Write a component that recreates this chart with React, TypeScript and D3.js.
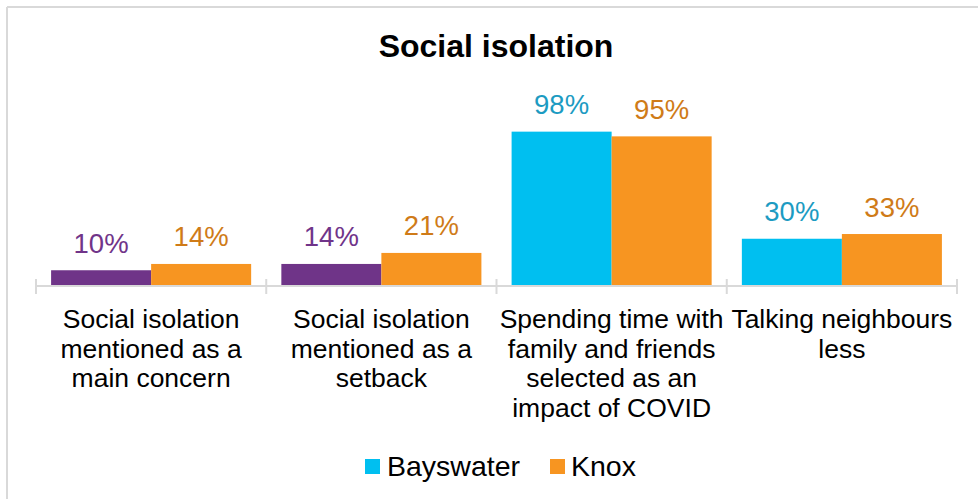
import React from "react";
import * as d3 from "d3";

const categories = ["c1", "c2", "c3", "c4"];
const categoryLines = [
  ["Social isolation", "mentioned as a", "main concern"],
  ["Social isolation", "mentioned as a", "setback"],
  ["Spending time with", "family and friends", "selected as an", "impact of COVID"],
  ["Talking neighbours", "less"],
];
const seriesNames = ["Bayswater", "Knox"];
const bayswater = [10, 14, 98, 30];
const knox = [14, 21, 95, 33];
const bayswaterBarColors = ["#6F3488", "#6F3488", "#00BFF0", "#00BFF0"];
const bayswaterLabelColors = ["#703489", "#703489", "#1C9BC2", "#1C9BC2"];
const knoxBarColor = "#F79521";
const knoxLabelColor = "#CF7B18";
const legendColors = ["#00BFF0", "#F79521"];
const titleText = "Social isolation";

const W = 978;
const H = 499;
const FONT = "'Liberation Sans', Arial, sans-serif";

export default function App() {
  const x0 = d3.scaleBand<string>().domain(categories).range([36, 957]).paddingInner(0).paddingOuter(0);
  const x1 = d3
    .scaleBand<string>()
    .domain(seriesNames)
    .range([0, x0.bandwidth()])
    .paddingInner(0)
    .paddingOuter(0.151);
  const y = d3.scaleLinear().domain([0, 100]).range([286, 128.5]);
  const values = [bayswater, knox];
  const ticks = [...categories.map((c) => x0(c)!), 957];

  return (
    <svg
      width={W}
      height={H}
      style={{ position: "absolute", left: 0, top: 0, background: "#fff" }}
      fontFamily={FONT}
    >
      <rect x={0} y={0} width={W} height={H} fill="#fff" />
      <line x1={7} y1={7} x2={W} y2={7} stroke="#D9D9D9" strokeWidth={2} />
      <line x1={7} y1={7} x2={7} y2={H} stroke="#D9D9D9" strokeWidth={2} />

      <text x={496} y={57} textAnchor="middle" fontSize={32} fontWeight="bold" fill="#000">
        {titleText}
      </text>

      {categories.map((c, i) =>
        seriesNames.map((s, si) => {
          const v = values[si][i];
          const bx = x0(c)! + x1(s)!;
          const fill = si === 0 ? bayswaterBarColors[i] : knoxBarColor;
          const lc = si === 0 ? bayswaterLabelColors[i] : knoxLabelColor;
          return (
            <g key={c + s}>
              <rect x={bx} y={y(v)} width={x1.bandwidth()} height={y(0) - y(v)} fill={fill} />
              <text
                x={bx + x1.bandwidth() / 2}
                y={y(v) - 17.5}
                textAnchor="middle"
                fontSize={27.5}
                fill={lc}
              >
                {v}%
              </text>
            </g>
          );
        })
      )}

      <line x1={36} y1={286} x2={957} y2={286} stroke="#D9D9D9" strokeWidth={2} />
      {ticks.map((t, i) => (
        <line key={i} x1={t} y1={279} x2={t} y2={294} stroke="#D9D9D9" strokeWidth={2} />
      ))}

      {categories.map((c, i) => (
        <text key={c} x={x0(c)! + x0.bandwidth() / 2} y={328} textAnchor="middle" fontSize={26.5} fill="#000">
          {categoryLines[i].map((l, li) => (
            <tspan key={li} x={x0(c)! + x0.bandwidth() / 2} y={328 + li * 29.5}>
              {l}
            </tspan>
          ))}
        </text>
      ))}

      <rect x={365} y={459} width={15} height={15} fill={legendColors[0]} />
      <text x={387} y={476} fontSize={28.5} fill="#000">
        {seriesNames[0]}
      </text>
      <rect x={550} y={459} width={15} height={15} fill={legendColors[1]} />
      <text x={571} y={476} fontSize={28.5} fill="#000">
        {seriesNames[1]}
      </text>
    </svg>
  );
}
